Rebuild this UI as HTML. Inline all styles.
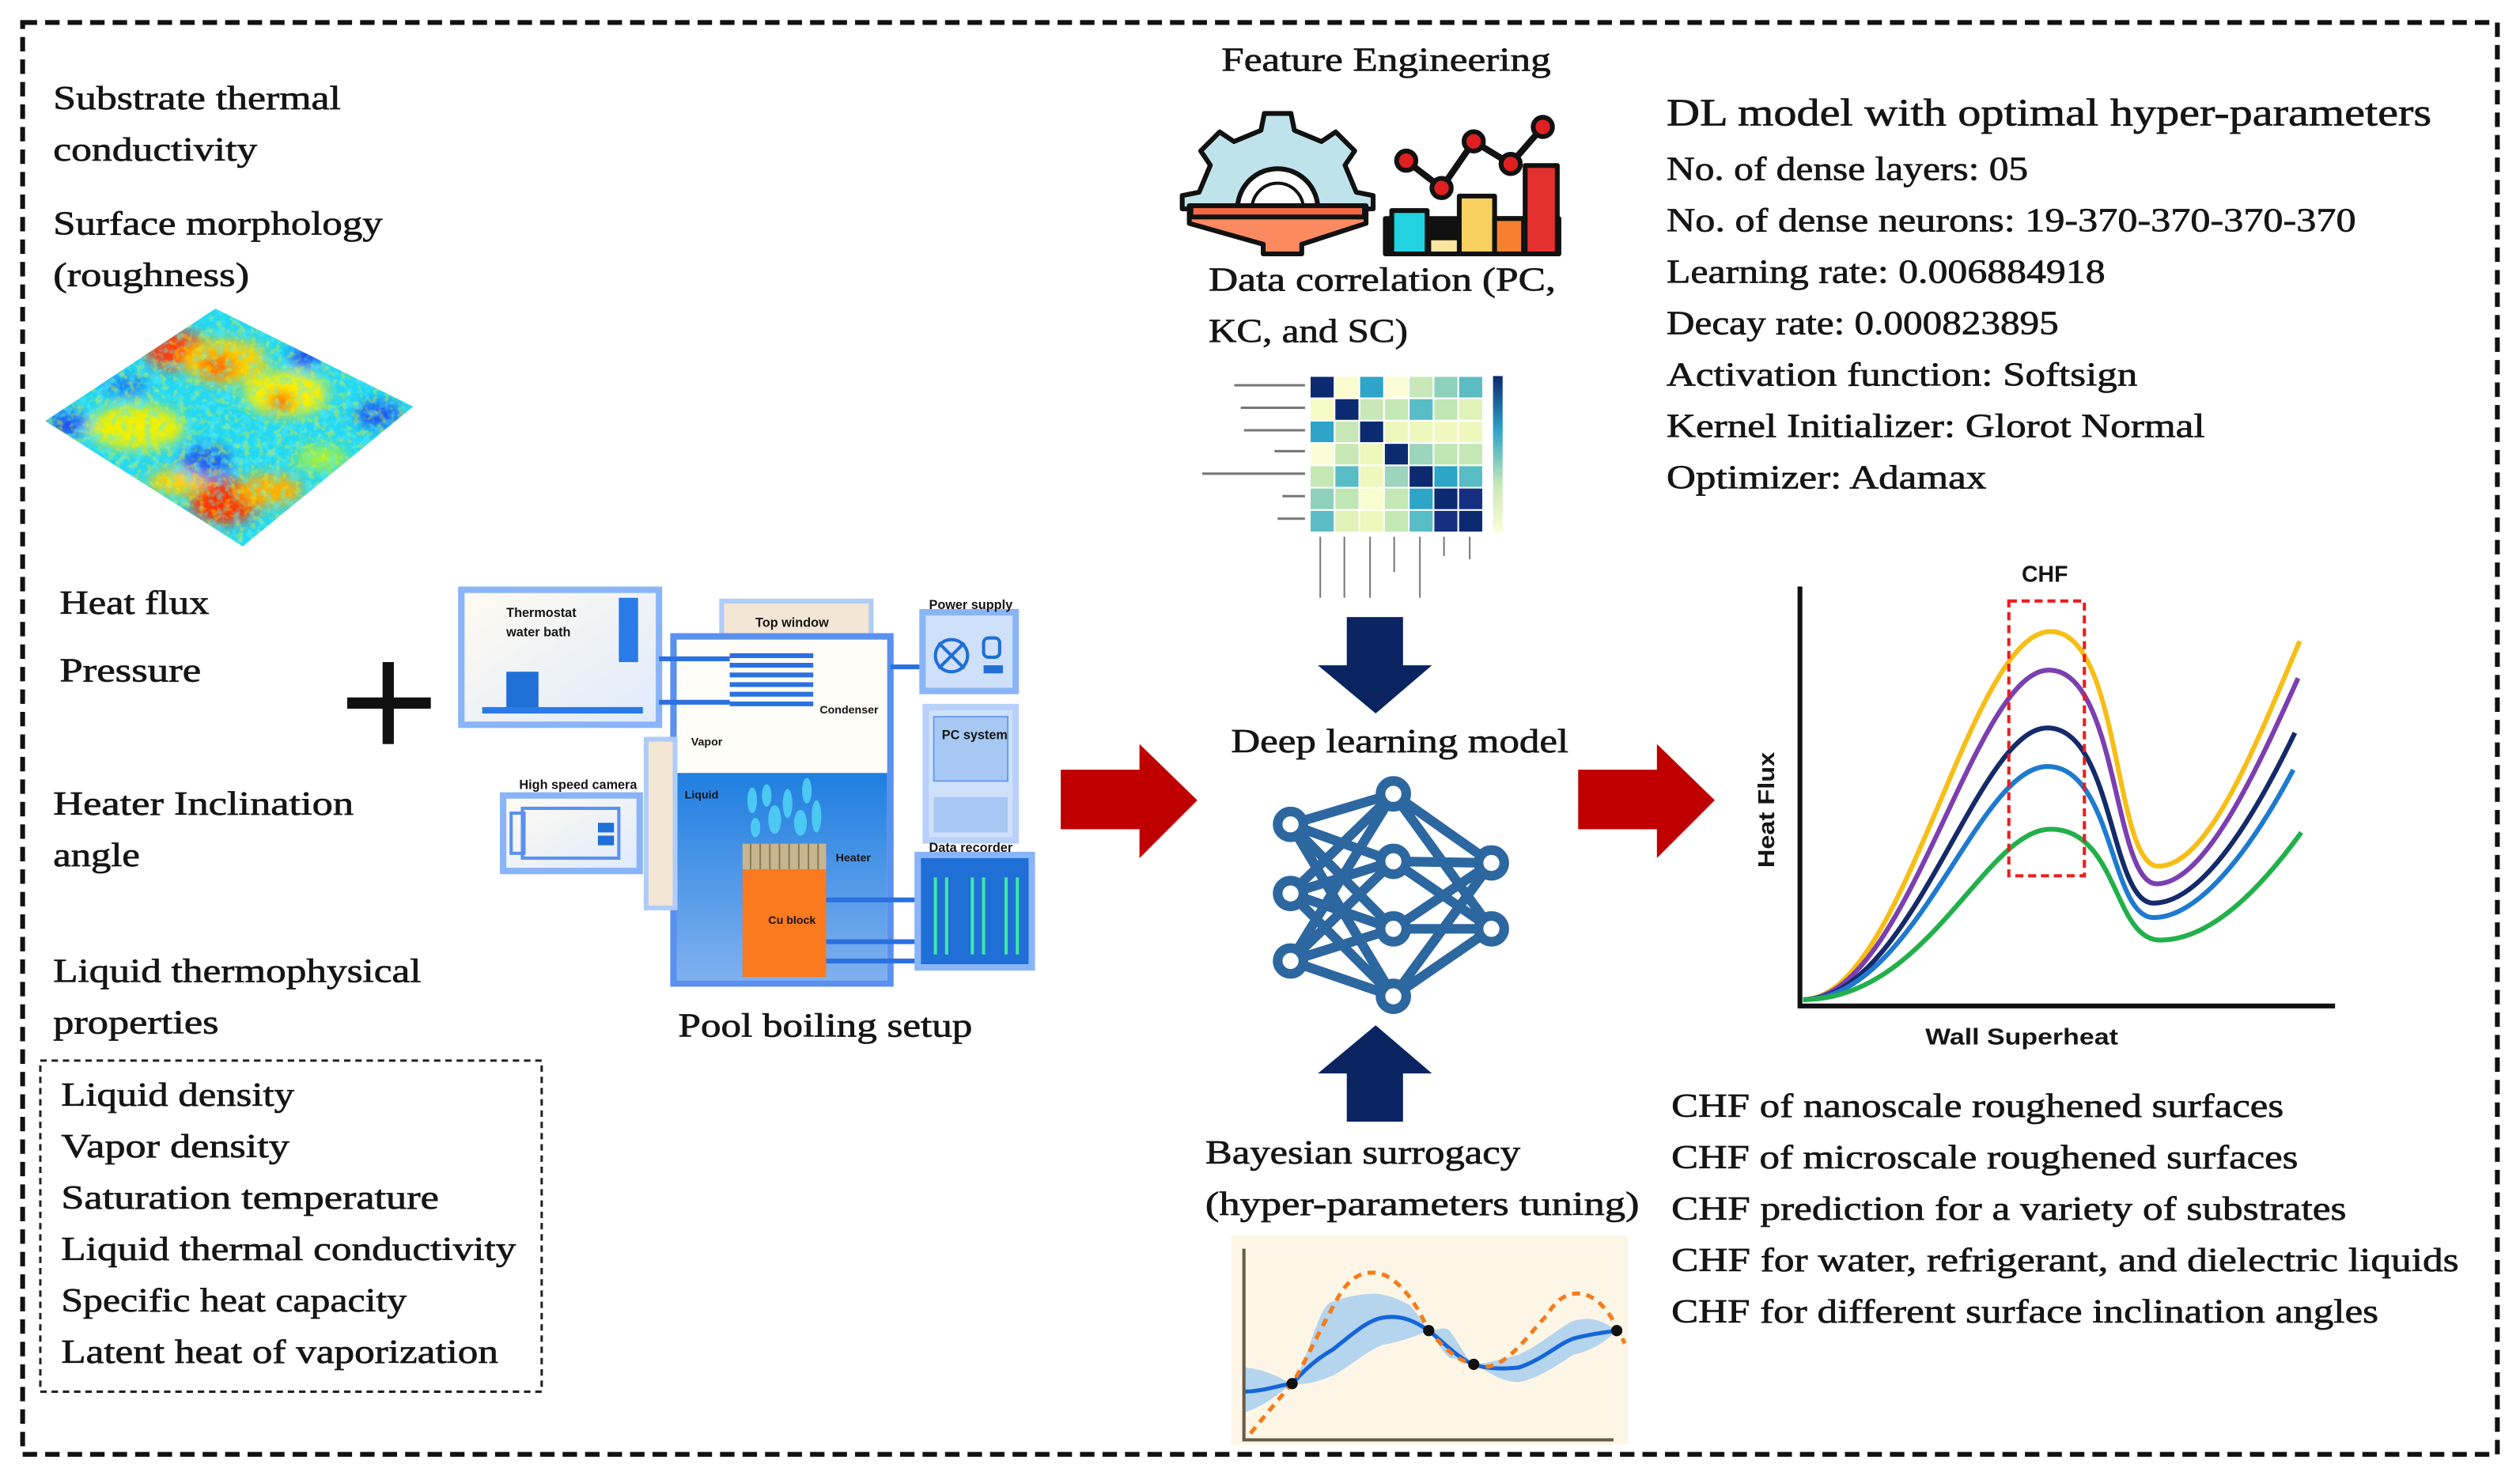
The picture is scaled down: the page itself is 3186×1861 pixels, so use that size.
<!DOCTYPE html>
<html><head><meta charset="utf-8"><style>
html,body{margin:0;padding:0;background:#fff;}
svg{display:block;}
text{font-family:"Liberation Serif",serif;fill:#151515;stroke:#151515;stroke-width:0.35;}
.s{font-family:"Liberation Sans",sans-serif;font-weight:bold;stroke:none;}
</style></head><body>
<svg width="3186" height="1861" viewBox="0 0 1568 916" xmlns="http://www.w3.org/2000/svg">
<defs>
<filter id="bl" x="-20%" y="-20%" width="140%" height="140%"><feGaussianBlur stdDeviation="4"/></filter>
<filter id="noise" x="0" y="0" width="100%" height="100%">
<feTurbulence type="fractalNoise" baseFrequency="0.2" numOctaves="2" seed="4"/>
<feColorMatrix type="matrix" values="0 0 0 0 0.1  0 0 0 0 0.85  0 0 0 0 0.95  0 0 0 -4 2.2"/>
</filter>
<filter id="noise2" x="0" y="0" width="100%" height="100%">
<feTurbulence type="fractalNoise" baseFrequency="0.25" numOctaves="2" seed="9"/>
<feColorMatrix type="matrix" values="0 0 0 0 1  0 0 0 0 0.9  0 0 0 0 0  0 0 0 -5 2.5"/>
</filter>
<clipPath id="dia"><polygon points="28,262 134,192 257,253 151,340"/></clipPath>
<linearGradient id="liq" x1="0" y1="0" x2="0" y2="1"><stop offset="0" stop-color="#1f7fe0"/><stop offset="1" stop-color="#7fb0ee"/></linearGradient>
<linearGradient id="frame" x1="0" y1="0" x2="1" y2="1"><stop offset="0" stop-color="#fffbf0"/><stop offset="1" stop-color="#dfeafc"/></linearGradient>
<linearGradient id="cb" x1="0" y1="0" x2="0" y2="1"><stop offset="0" stop-color="#0c2a70"/><stop offset="0.35" stop-color="#2ea4c8"/><stop offset="0.7" stop-color="#c8e8b8"/><stop offset="1" stop-color="#fcfdd6"/></linearGradient>
</defs>
<rect width="1568" height="916" fill="#fff"/>
<rect x="14" y="14" width="1540" height="891" fill="none" stroke="#111" stroke-width="3" stroke-dasharray="9,5"/>

<g font-size="21">
<text x="33" y="68" textLength="179" lengthAdjust="spacingAndGlyphs">Substrate thermal</text>
<text x="33" y="100" textLength="127" lengthAdjust="spacingAndGlyphs">conductivity</text>
<text x="33" y="146" textLength="205" lengthAdjust="spacingAndGlyphs">Surface morphology</text>
<text x="33" y="178" textLength="122" lengthAdjust="spacingAndGlyphs">(roughness)</text>
<text x="37" y="382" textLength="93" lengthAdjust="spacingAndGlyphs">Heat flux</text>
<text x="37" y="424" textLength="88" lengthAdjust="spacingAndGlyphs">Pressure</text>
<text x="33" y="507" textLength="187" lengthAdjust="spacingAndGlyphs">Heater Inclination</text>
<text x="33" y="539" textLength="54" lengthAdjust="spacingAndGlyphs">angle</text>
<text x="33" y="611" textLength="229" lengthAdjust="spacingAndGlyphs">Liquid thermophysical</text>
<text x="33" y="643" textLength="103" lengthAdjust="spacingAndGlyphs">properties</text>
<text x="38" y="688" textLength="145" lengthAdjust="spacingAndGlyphs">Liquid density</text>
<text x="38" y="720" textLength="142" lengthAdjust="spacingAndGlyphs">Vapor density</text>
<text x="38" y="752" textLength="235" lengthAdjust="spacingAndGlyphs">Saturation temperature</text>
<text x="38" y="784" textLength="283" lengthAdjust="spacingAndGlyphs">Liquid thermal conductivity</text>
<text x="38" y="816" textLength="215" lengthAdjust="spacingAndGlyphs">Specific heat capacity</text>
<text x="38" y="848" textLength="272" lengthAdjust="spacingAndGlyphs">Latent heat of vaporization</text>
</g>
<rect x="25" y="660" width="312" height="206" fill="none" stroke="#222" stroke-width="1.5" stroke-dasharray="4,3"/>

<g clip-path="url(#dia)">
<rect x="20" y="185" width="245" height="160" fill="#22d8f5"/>
<g filter="url(#bl)">
<ellipse cx="110" cy="218" rx="20" ry="12" fill="#ff3a10"/>
<ellipse cx="140" cy="225" rx="26" ry="14" fill="#ffd000"/>
<ellipse cx="135" cy="228" rx="12" ry="8" fill="#ff6a00"/>
<ellipse cx="178" cy="245" rx="26" ry="14" fill="#fff000"/>
<ellipse cx="175" cy="250" rx="8" ry="6" fill="#ff5000"/>
<ellipse cx="85" cy="266" rx="30" ry="14" fill="#f0f000"/>
<ellipse cx="140" cy="312" rx="22" ry="14" fill="#ff3000"/>
<ellipse cx="168" cy="305" rx="20" ry="10" fill="#ffb000"/>
<ellipse cx="110" cy="300" rx="18" ry="8" fill="#ffd000"/>
<ellipse cx="128" cy="287" rx="16" ry="10" fill="#1a60f0"/>
<ellipse cx="42" cy="264" rx="12" ry="8" fill="#1a50f0"/>
<ellipse cx="78" cy="240" rx="14" ry="6" fill="#1880f0"/>
<ellipse cx="235" cy="258" rx="14" ry="8" fill="#1a50f0"/>
<ellipse cx="190" cy="222" rx="10" ry="6" fill="#1a40f0"/>
<ellipse cx="200" cy="285" rx="16" ry="8" fill="#a0f040"/>
</g>
<rect x="20" y="185" width="245" height="160" filter="url(#noise)" opacity="0.5"/>
<rect x="20" y="185" width="245" height="160" filter="url(#noise2)" opacity="0.35"/>
</g>

<rect x="216" y="434" width="52" height="7" fill="#111"/>
<rect x="238" y="412" width="7" height="51" fill="#111"/>

<g>
<rect x="287" y="367" width="123" height="84" fill="url(#frame)" stroke="#8ab4f8" stroke-width="4"/>
<rect x="315" y="418" width="20" height="24" fill="#1f6fd6"/>
<rect x="385" y="372" width="12" height="40" fill="#2a7ae8"/>
<rect x="300" y="440" width="100" height="4" fill="#2a7ae8"/>
<text x="315" y="384" font-size="8" class="s" fill="#333">Thermostat</text>
<text x="315" y="396" font-size="8" class="s" fill="#333">water bath</text>
<rect x="449" y="374" width="93" height="23" fill="#f4e6d4" stroke="#b0ccf8" stroke-width="3"/>
<text x="470" y="390" font-size="8" class="s" fill="#333">Top window</text>
<rect x="419" y="396" width="135" height="216" fill="#fffdf7" stroke="#5a90f0" stroke-width="4"/>
<rect x="421" y="481" width="131" height="129" fill="url(#liq)"/>
<g stroke="#2a70e0" stroke-width="3" fill="none">
<path d="M454,408 h52 M454,414 h52 M454,420 h52 M454,426 h52 M454,432 h52 M454,438 h52"/>
<path d="M410,410 h44 M410,437 h44"/>
<path d="M514,560 h58 M514,586 h56 M514,598 h58"/>
<path d="M554,415 h20"/>
</g>
<text x="510" y="444" font-size="7" class="s" fill="#333">Condenser</text>
<text x="430" y="464" font-size="7" class="s" fill="#333">Vapor</text>
<text x="426" y="497" font-size="7" class="s" fill="#222">Liquid</text>
<text x="520" y="536" font-size="7" class="s" fill="#222">Heater</text>
<g fill="#4fd0f5" opacity="0.9">
<ellipse cx="468" cy="498" rx="3" ry="8"/><ellipse cx="477" cy="495" rx="3" ry="7"/><ellipse cx="490" cy="500" rx="3" ry="9"/>
<ellipse cx="502" cy="492" rx="3" ry="8"/><ellipse cx="482" cy="510" rx="4" ry="9"/><ellipse cx="498" cy="512" rx="4" ry="8"/>
<ellipse cx="508" cy="508" rx="3" ry="10"/><ellipse cx="470" cy="515" rx="3" ry="6"/>
</g>
<rect x="462" y="525" width="52" height="16" fill="#c8b48e"/>
<g stroke="#8a7a5a" stroke-width="1"><path d="M467,525v16M473,525v16M479,525v16M485,525v16M491,525v16M497,525v16M503,525v16M509,525v16"/></g>
<rect x="462" y="541" width="52" height="67" fill="#fa7a20"/>
<text x="478" y="575" font-size="7" class="s" fill="#222">Cu block</text>
<rect x="402" y="460" width="18" height="105" fill="#f4e6d4" stroke="#b0ccf8" stroke-width="3"/>
<rect x="313" y="495" width="85" height="47" fill="url(#frame)" stroke="#8ab4f8" stroke-width="4"/>
<rect x="325" y="503" width="60" height="31" fill="none" stroke="#5a90f0" stroke-width="2"/>
<rect x="318" y="506" width="8" height="25" fill="none" stroke="#5a90f0" stroke-width="2"/>
<rect x="372" y="512" width="10" height="6" fill="#1f6fd6"/><rect x="372" y="520" width="10" height="6" fill="#1f6fd6"/>
<text x="323" y="491" font-size="8" class="s" fill="#333">High speed camera</text>
<rect x="574" y="381" width="58" height="49" fill="#cfe0fb" stroke="#8ab4f8" stroke-width="4"/>
<circle cx="592" cy="408" r="10" fill="none" stroke="#1f6fd6" stroke-width="2"/>
<path d="M584,400 l16,16 M600,400 l-16,16" stroke="#1f6fd6" stroke-width="2"/>
<rect x="612" y="397" width="10" height="12" rx="3" fill="none" stroke="#1f6fd6" stroke-width="2"/>
<rect x="612" y="414" width="12" height="5" fill="#1f6fd6"/>
<text x="578" y="379" font-size="8" class="s" fill="#333">Power supply</text>
<rect x="576" y="440" width="56" height="83" fill="#cfe0fb" stroke="#b8d0fa" stroke-width="4"/>
<rect x="581" y="446" width="46" height="40" fill="#a6c8f2" stroke="#6aa0ee" stroke-width="1"/>
<text x="586" y="460" font-size="8" class="s" fill="#333">PC system</text>
<rect x="581" y="496" width="46" height="22" fill="#a6c8f2"/>
<rect x="571" y="532" width="71" height="70" fill="#1f6fd6" stroke="#8ab4f8" stroke-width="4"/>
<g stroke="#3ee8a8" stroke-width="2"><path d="M582,546v48M589,546v48M605,546v48M612,546v48M626,546v48M633,546v48"/></g>
<text x="578" y="530" font-size="8" class="s" fill="#333">Data recorder</text>
</g>
<text x="422" y="645" font-size="21" textLength="183" lengthAdjust="spacingAndGlyphs">Pool boiling setup</text>

<polygon points="660,479 709,479 709,463 745,498 709,534 709,516 660,516" fill="#c00000"/>
<polygon points="982,479 1031,479 1031,463 1067,498 1031,534 1031,516 982,516" fill="#c00000"/>

<text x="760" y="44" font-size="21" textLength="205" lengthAdjust="spacingAndGlyphs">Feature Engineering</text>
<g stroke="#111" stroke-width="3" stroke-linejoin="round">
<polygon points="735.6,130 735.6,121.7 746.1,119.6 753.1,102.8 747.1,93.9 758.9,82.1 767.8,88.1 784.6,81.1 786.7,70.6 803.3,70.6 805.4,81.1 822.2,88.1 831.1,82.1 842.9,93.9 836.9,102.8 843.9,119.6 854.4,121.7 854.4,130" fill="#bfe3ea"/>
<path d="M770,130 A25,25 0 0 1 820,130" fill="#fff"/>
<path d="M779,130 A16,16 0 0 1 811,130" fill="#fff" stroke-width="2"/>
<polygon points="740,128 850,128 850,139 810,152 810,158 786,158 786,152 740,139" fill="#fb8a60"/>
<rect x="741" y="128" width="108" height="7" fill="#f36a40"/>
<rect x="862" y="136" width="108" height="22" fill="#111"/>
<rect x="866" y="131" width="22" height="27" fill="#21d3e0"/>
<rect x="889" y="148" width="20" height="10" fill="#f9e6a0"/>
<rect x="908" y="122" width="22" height="36" fill="#f8d060"/>
<rect x="930" y="136" width="18" height="22" fill="#f68030"/>
<rect x="949" y="103" width="20" height="55" fill="#e53030"/>
<path d="M875,100 L897,117 L917,88 L940,102 L960,79" fill="none" stroke-width="4"/>
</g>
<g fill="#e02020" stroke="#111" stroke-width="3"><circle cx="875" cy="100" r="6"/><circle cx="897" cy="117" r="6"/><circle cx="917" cy="88" r="6"/><circle cx="940" cy="102" r="6"/><circle cx="960" cy="79" r="6"/></g>
<text x="752" y="181" font-size="21" textLength="216" lengthAdjust="spacingAndGlyphs">Data correlation (PC,</text>
<text x="752" y="213" font-size="21" textLength="124" lengthAdjust="spacingAndGlyphs">KC, and SC)</text>

<g>
<g fill="#777">
<rect x="768" y="239" width="44" height="1.5"/><rect x="772" y="253" width="40" height="1.5"/><rect x="774" y="267" width="38" height="1.5"/>
<rect x="793" y="280" width="19" height="1.5"/><rect x="748" y="294" width="64" height="1.5"/><rect x="798" y="308" width="14" height="1.5"/><rect x="795" y="322" width="17" height="1.5"/>
<rect x="821" y="334" width="1" height="38"/><rect x="836" y="334" width="1" height="38"/><rect x="852" y="334" width="1" height="38"/><rect x="867" y="334" width="1" height="22"/><rect x="883" y="334" width="1" height="38"/><rect x="898" y="334" width="1" height="12"/><rect x="914" y="334" width="1" height="14"/>
</g>
<g stroke="#fff" stroke-width="1">
<rect x="815" y="234" width="15.4" height="13.9" fill="#0c2a70"/><rect x="830.4" y="234" width="15.4" height="13.9" fill="#fafcd0"/><rect x="845.8" y="234" width="15.4" height="13.9" fill="#2ea4c8"/><rect x="861.2" y="234" width="15.4" height="13.9" fill="#fcfdd6"/><rect x="876.6" y="234" width="15.4" height="13.9" fill="#c8e8b8"/><rect x="892" y="234" width="15.4" height="13.9" fill="#8ed0bc"/><rect x="907.4" y="234" width="15.4" height="13.9" fill="#5cbcc4"/>
<rect x="815" y="247.9" width="15.4" height="13.9" fill="#f6fac4"/><rect x="830.4" y="247.9" width="15.4" height="13.9" fill="#0c2a70"/><rect x="845.8" y="247.9" width="15.4" height="13.9" fill="#c8e8b8"/><rect x="861.2" y="247.9" width="15.4" height="13.9" fill="#c4e8b4"/><rect x="876.6" y="247.9" width="15.4" height="13.9" fill="#58bcc4"/><rect x="892" y="247.9" width="15.4" height="13.9" fill="#c0e6b4"/><rect x="907.4" y="247.9" width="15.4" height="13.9" fill="#e0f2b8"/>
<rect x="815" y="261.8" width="15.4" height="13.9" fill="#2ea4c8"/><rect x="830.4" y="261.8" width="15.4" height="13.9" fill="#c8e8b8"/><rect x="845.8" y="261.8" width="15.4" height="13.9" fill="#0c2a70"/><rect x="861.2" y="261.8" width="15.4" height="13.9" fill="#eef8bc"/><rect x="876.6" y="261.8" width="15.4" height="13.9" fill="#eef8bc"/><rect x="892" y="261.8" width="15.4" height="13.9" fill="#f0f8c0"/><rect x="907.4" y="261.8" width="15.4" height="13.9" fill="#eef8bc"/>
<rect x="815" y="275.7" width="15.4" height="13.9" fill="#fcfdd6"/><rect x="830.4" y="275.7" width="15.4" height="13.9" fill="#c8e8b4"/><rect x="845.8" y="275.7" width="15.4" height="13.9" fill="#eef8bc"/><rect x="861.2" y="275.7" width="15.4" height="13.9" fill="#0c2a70"/><rect x="876.6" y="275.7" width="15.4" height="13.9" fill="#9cd4bc"/><rect x="892" y="275.7" width="15.4" height="13.9" fill="#c0e6b4"/><rect x="907.4" y="275.7" width="15.4" height="13.9" fill="#c4e8b4"/>
<rect x="815" y="289.6" width="15.4" height="13.9" fill="#c4e8b4"/><rect x="830.4" y="289.6" width="15.4" height="13.9" fill="#58bcc4"/><rect x="845.8" y="289.6" width="15.4" height="13.9" fill="#eef8bc"/><rect x="861.2" y="289.6" width="15.4" height="13.9" fill="#9cd4bc"/><rect x="876.6" y="289.6" width="15.4" height="13.9" fill="#0c2a70"/><rect x="892" y="289.6" width="15.4" height="13.9" fill="#2ea4c8"/><rect x="907.4" y="289.6" width="15.4" height="13.9" fill="#58bcc4"/>
<rect x="815" y="303.5" width="15.4" height="13.9" fill="#8ed0bc"/><rect x="830.4" y="303.5" width="15.4" height="13.9" fill="#c0e6b4"/><rect x="845.8" y="303.5" width="15.4" height="13.9" fill="#f8fcce"/><rect x="861.2" y="303.5" width="15.4" height="13.9" fill="#c4e8b4"/><rect x="876.6" y="303.5" width="15.4" height="13.9" fill="#2ea4c8"/><rect x="892" y="303.5" width="15.4" height="13.9" fill="#0c2a70"/><rect x="907.4" y="303.5" width="15.4" height="13.9" fill="#162f80"/>
<rect x="815" y="317.4" width="15.4" height="13.9" fill="#5cbcc4"/><rect x="830.4" y="317.4" width="15.4" height="13.9" fill="#e0f2b8"/><rect x="845.8" y="317.4" width="15.4" height="13.9" fill="#eef8bc"/><rect x="861.2" y="317.4" width="15.4" height="13.9" fill="#c4e8b4"/><rect x="876.6" y="317.4" width="15.4" height="13.9" fill="#58bcc4"/><rect x="892" y="317.4" width="15.4" height="13.9" fill="#162f80"/><rect x="907.4" y="317.4" width="15.4" height="13.9" fill="#0c2a70"/>
</g>
<rect x="929" y="234" width="6" height="97" fill="url(#cb)"/>
</g>

<polygon points="838,384 873,384 873,414 891,414 856,444 820,414 838,414" fill="#0a2461"/>
<polygon points="838,698 873,698 873,668 891,668 856,638 820,668 838,668" fill="#0a2461"/>

<text x="766" y="468" font-size="21" textLength="210" lengthAdjust="spacingAndGlyphs">Deep learning model</text>

<g stroke="#2d67a0" stroke-width="6" stroke-linecap="round">
<path d="M803,513 L867,494 M803,513 L867,536 M803,513 L867,578 M803,513 L867,620
M803,556 L867,494 M803,556 L867,536 M803,556 L867,578 M803,556 L867,620
M803,598 L867,494 M803,598 L867,536 M803,598 L867,578 M803,598 L867,620
M867,494 L928,537 M867,536 L928,537 M867,578 L928,537 M867,620 L928,537
M867,494 L928,578 M867,536 L928,578 M867,578 L928,578 M867,620 L928,578"/>
</g>
<g fill="#fff" stroke="#2d67a0" stroke-width="6">
<circle cx="803" cy="513" r="8"/><circle cx="803" cy="556" r="8"/><circle cx="803" cy="598" r="8"/>
<circle cx="867" cy="494" r="8"/><circle cx="867" cy="536" r="8"/><circle cx="867" cy="578" r="8"/><circle cx="867" cy="620" r="8"/>
<circle cx="928" cy="537" r="8"/><circle cx="928" cy="578" r="8"/>
</g>

<text x="750" y="724" font-size="21" textLength="196" lengthAdjust="spacingAndGlyphs">Bayesian surrogacy</text>
<text x="750" y="756" font-size="21" textLength="270" lengthAdjust="spacingAndGlyphs">(hyper-parameters tuning)</text>

<rect x="766" y="769" width="247" height="130" fill="#fdf6e6"/>
<path d="M774,851 C790,852 800,860 804,861 C815,845 820,812 829,810 C840,806 850,805 856,805 C866,806 873,810 877,812 C883,818 886,825 889,828 C895,828 898,825 902,828 C908,836 912,845 917,849 C928,848 936,845 945,843 C960,836 970,826 979,822 C992,818 1000,824 1006,828 C1000,834 992,840 979,843 C968,850 957,858 945,860 C932,860 925,852 917,849 C912,847 908,846 902,845 C896,840 893,832 889,828 C880,832 870,835 860,837 C848,842 838,852 829,856 C820,860 812,862 804,861 C795,868 785,876 774,879 Z" fill="#9cc8f0" opacity="0.75"/>
<path d="M774,866 C785,866 796,862 804,861 C812,852 820,845 829,840 C842,830 850,822 860,820 C872,818 880,822 889,828 C898,835 908,846 917,849 C925,852 935,852 945,851 C960,846 970,836 979,833 C990,830 1000,829 1006,828" fill="none" stroke="#1565d8" stroke-width="2.5"/>
<path d="M778,892 C788,880 796,870 804,861 C812,848 820,830 829,814 C836,800 842,793 852,792 C862,791 870,798 877,807 C883,815 886,822 889,828 C898,838 905,846 917,849 C925,852 930,850 936,846 C947,838 955,826 962,819 C968,810 972,806 980,805 C990,804 998,812 1004,822 C1008,830 1010,834 1011,836" fill="none" stroke="#f57c1a" stroke-width="2.5" stroke-dasharray="5,4"/>
<g fill="#111"><circle cx="804" cy="861" r="3.5"/><circle cx="889" cy="828" r="3.5"/><circle cx="917" cy="849" r="3.5"/><circle cx="1006" cy="828" r="3.5"/></g>
<path d="M774,777 V896 H1004" fill="none" stroke="#6a5a48" stroke-width="2"/>

<text x="1037" y="78" font-size="24" textLength="476" lengthAdjust="spacingAndGlyphs">DL model with optimal hyper-parameters</text>
<g font-size="21">
<text x="1037" y="112" textLength="225" lengthAdjust="spacingAndGlyphs">No. of dense layers: 05</text>
<text x="1037" y="144" textLength="429" lengthAdjust="spacingAndGlyphs">No. of dense neurons: 19-370-370-370-370</text>
<text x="1037" y="176" textLength="273" lengthAdjust="spacingAndGlyphs">Learning rate: 0.006884918</text>
<text x="1037" y="208" textLength="244" lengthAdjust="spacingAndGlyphs">Decay rate: 0.000823895</text>
<text x="1037" y="240" textLength="293" lengthAdjust="spacingAndGlyphs">Activation function: Softsign</text>
<text x="1037" y="272" textLength="335" lengthAdjust="spacingAndGlyphs">Kernel Initializer: Glorot Normal</text>
<text x="1037" y="304" textLength="199" lengthAdjust="spacingAndGlyphs">Optimizer: Adamax</text>
<text x="1040" y="695" textLength="381" lengthAdjust="spacingAndGlyphs">CHF of nanoscale roughened surfaces</text>
<text x="1040" y="727" textLength="390" lengthAdjust="spacingAndGlyphs">CHF of microscale roughened surfaces</text>
<text x="1040" y="759" textLength="420" lengthAdjust="spacingAndGlyphs">CHF prediction for a variety of substrates</text>
<text x="1040" y="791" textLength="490" lengthAdjust="spacingAndGlyphs">CHF for water, refrigerant, and dielectric liquids</text>
<text x="1040" y="823" textLength="440" lengthAdjust="spacingAndGlyphs">CHF for different surface inclination angles</text>
</g>

<text x="1258" y="362" font-size="14" class="s" fill="#111">CHF</text>
<text x="1104" y="540" font-size="14" class="s" fill="#111" transform="rotate(-90 1104 540)" textLength="72" lengthAdjust="spacingAndGlyphs">Heat Flux</text>
<text x="1198" y="650" font-size="14" class="s" fill="#111" textLength="120" lengthAdjust="spacingAndGlyphs">Wall Superheat</text>
<g fill="none" stroke-width="3">
<path d="M1122,622 C1185,622 1225,393 1276,393 C1320,393 1315,539 1343,539 C1375,539 1405,460 1431,399" stroke="#f7be16"/>
<path d="M1122,622 C1187,622 1228,417 1275,417 C1318,417 1315,550 1342,550 C1372,550 1404,480 1430,422" stroke="#7b3fb0"/>
<path d="M1122,622 C1190,622 1230,453 1274,453 C1315,453 1313,562 1340,562 C1370,562 1402,510 1428,456" stroke="#142a6a"/>
<path d="M1122,622 C1192,622 1230,477 1274,477 C1315,477 1313,571 1340,571 C1368,571 1400,530 1427,479" stroke="#1e7ad0"/>
<path d="M1122,622 C1200,622 1235,516 1276,516 C1318,516 1315,585 1344,585 C1375,585 1405,555 1432,518" stroke="#22b04a"/>
</g>
<rect x="1250" y="374" width="47" height="171" fill="none" stroke="#ee1c1c" stroke-width="2" stroke-dasharray="5,3"/>
<path d="M1120,365 V626 H1453" fill="none" stroke="#111" stroke-width="3"/>
</svg>
</body></html>
